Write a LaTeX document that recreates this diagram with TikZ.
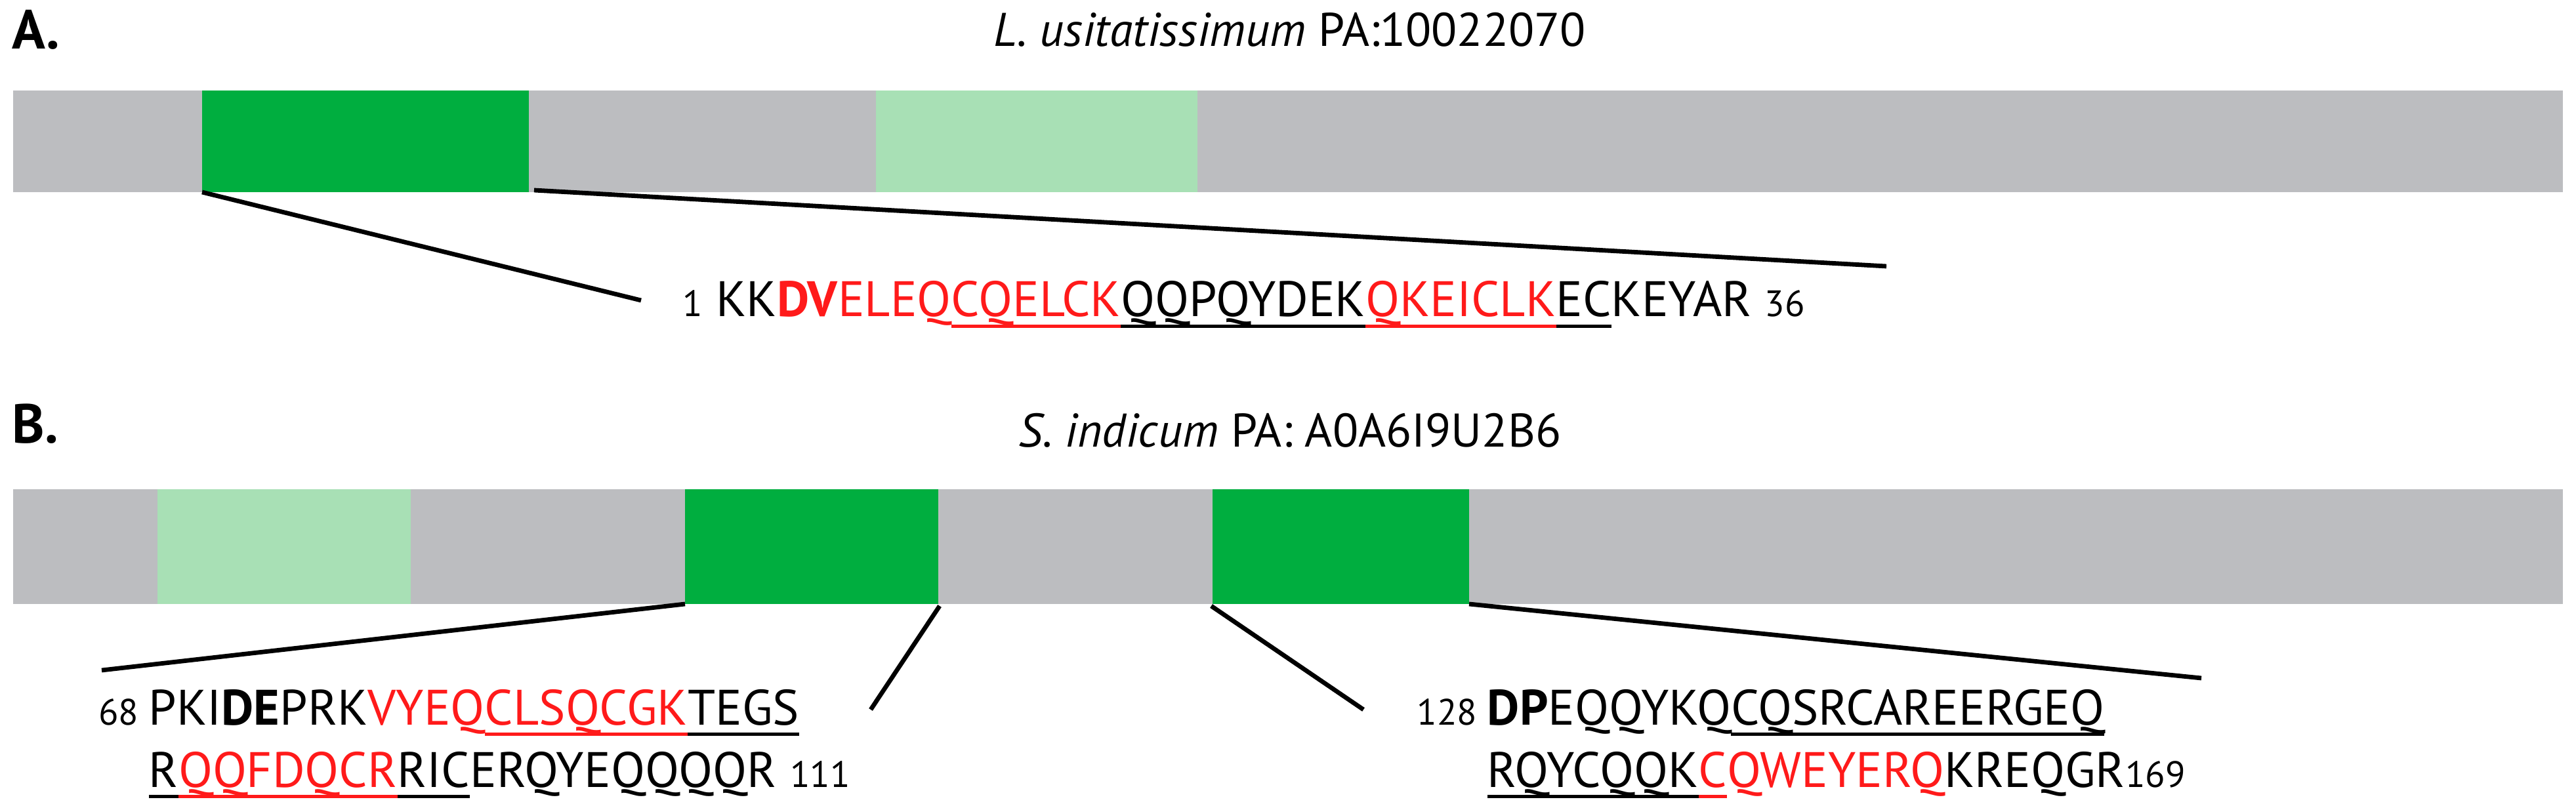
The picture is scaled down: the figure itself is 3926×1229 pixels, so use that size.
\documentclass[tikz,border=0pt]{standalone}
\usepackage{fontspec}
\setmainfont{PT Sans}
\definecolor{gbar}{HTML}{BCBDC0}
\definecolor{dgreen}{HTML}{00AE3F}
\definecolor{lgreen}{HTML}{A8E0B5}
\definecolor{sred}{HTML}{FF1A1A}
\newcommand{\rd}[1]{\textcolor{sred}{#1}}
\newcommand{\ul}[1]{\leavevmode\setbox0\hbox{#1}\rlap{\rule[-0.22em]{\wd0}{1.1pt}}\box0}
\newcommand{\nm}[1]{{\fontsize{14}{16}\selectfont #1}}
\begin{document}
\begin{tikzpicture}[x=0.25pt,y=-0.25pt,
  conn/.style={line width=1.7pt,black},
  seq/.style={inner sep=0pt,anchor=base west,font=\fontsize{19}{21}\selectfont},
  ttl/.style={font=\fontsize{18}{20}\selectfont},
  lab/.style={font=\bfseries\fontsize{21}{24}\selectfont,anchor=north west,inner sep=0pt}]
\useasboundingbox (0,0) rectangle (3926,1229);
% A
\node[lab] (la) at (18,14) {A.};
\node[ttl] (ta) at (1966,45) {\textit{L. usitatissimum} PA:10022070};
\fill[gbar] (20,138) rectangle (3906,293);
\fill[dgreen] (308,138) rectangle (806,293);
\fill[lgreen] (1335,138) rectangle (1825,293);
\coordinate (a1) at (308,293);
\coordinate (a2) at (814,290);
\node[seq] (sa) at (1040,483) {\nm{1} KK\rd{\textbf{DV}ELEQ\ul{CQELCK}}\ul{QQPQYDEK}\rd{\ul{QKEICLK}}\ul{EC}KEYAR \nm{36}};
\coordinate (a1e) at (977,458);
\coordinate (a2e) at (2875,406);
\draw[conn] (a1) -- (a1e);
\draw[conn] (a2) -- (a2e);
% B
\node[lab] (lb) at (18,615) {B.};
\node[ttl] (tb) at (1966,656) {\textit{S. indicum} PA: A0A6I9U2B6};
\fill[gbar] (20,746) rectangle (3906,921);
\fill[lgreen] (240,746) rectangle (626,921);
\fill[dgreen] (1044,746) rectangle (1430,921);
\fill[dgreen] (1848,746) rectangle (2239,921);
\coordinate (b1) at (1044,921);
\coordinate (b2) at (1432,924);
\coordinate (b3) at (1846,924);
\coordinate (b4) at (2239,921);
\coordinate (b1e) at (155,1022);
\coordinate (b2e) at (1327,1082);
\coordinate (b3e) at (2078,1082);
\coordinate (b4e) at (3355,1034);
\draw[conn] (b1) -- (b1e);
\draw[conn] (b2) -- (b2e);
\draw[conn] (b3) -- (b3e);
\draw[conn] (b4) -- (b4e);
\node[seq,anchor=base east] (s1n) at (212,1105) {\nm{68}};
\node[seq] (s1a) at (226,1105) {PKI\textbf{DE}PRK\rd{VYEQ\ul{CLSQCGK}}\ul{TEGS}};
\node[seq] (s1b) at (226,1200) {\ul{R}\rd{\ul{QQFDQCR}}\ul{RIC}ERQYEQQQQR \nm{111}};
\node[seq,anchor=base east] (s2n) at (2252,1105) {\nm{128}};
\node[seq] (s2a) at (2266,1105) {\textbf{DP}EQQYKQ\ul{CQSRCAREERGEQ}};
\node[seq] (s2b) at (2266,1200) {\ul{RQYCQQK}\rd{\ul{C}QWEYERQ}KREQGR\nm{169}};
\end{tikzpicture}
\end{document}
